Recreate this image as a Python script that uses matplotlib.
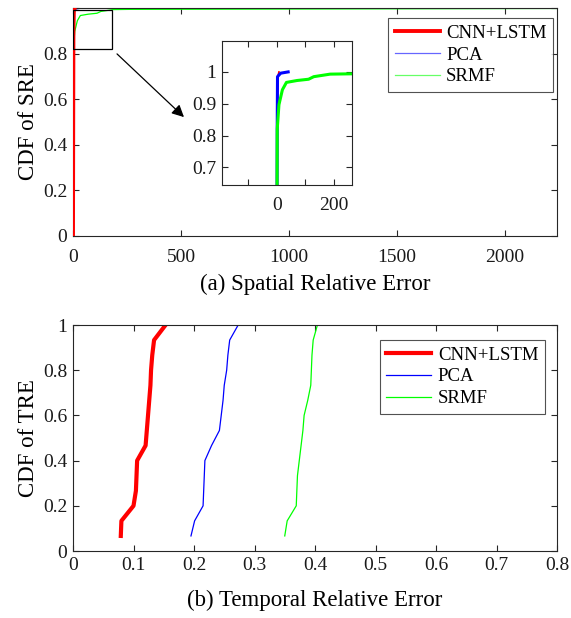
import matplotlib
matplotlib.use("Agg")
import matplotlib.pyplot as plt
import numpy as np
from matplotlib.patches import Rectangle, FancyArrowPatch

plt.rcParams['font.family'] = ['Liberation Serif', 'DejaVu Serif']
plt.rcParams['mathtext.fontset'] = 'stix'

methods = ['CNN+LSTM', 'PCA', 'SRMF']
colors = ['#ff0000', '#0000ff', '#00ff00']

# (a) Spatial relative error CDF
sre_cnn_x = [0, 1, 2, 4, 8]
sre_cnn_y = [0, 0.5, 0.9, 0.985, 1.0]
sre_pca_x = [0, 1, 2, 3, 14, 40]
sre_pca_y = [0, 0.5, 0.83, 0.985, 0.996, 1.0]
sre_srmf_x = [0, 1, 2, 8, 20, 34, 71, 111, 129, 186, 261, 2240]
sre_srmf_y = [0, 0.5, 0.82, 0.897, 0.944, 0.967, 0.973, 0.977, 0.985, 0.993, 0.994, 0.998]

# (b) Temporal relative error CDF (15 samples)
cdf_levels = [k / 15 for k in range(1, 16)]
tre_cnn = [0.079, 0.080, 0.100, 0.104, 0.105, 0.106, 0.120, 0.122, 0.124, 0.126,
           0.128, 0.129, 0.131, 0.134, 0.153]
tre_pca = [0.195, 0.201, 0.215, 0.216, 0.217, 0.218, 0.229, 0.242, 0.245, 0.248,
           0.250, 0.254, 0.256, 0.259, 0.273]
tre_srmf = [0.350, 0.354, 0.369, 0.370, 0.371, 0.374, 0.377, 0.380, 0.382, 0.388,
            0.393, 0.394, 0.395, 0.397, 0.404]

W, H = 571, 618
fig = plt.figure(figsize=(W / 100, H / 100), dpi=100)

def px_axes(l, t, r, b):
    return fig.add_axes([l / W, 1 - b / H, (r - l) / W, (b - t) / H])

axis_col = '#262626'
TICK_FS = 14
LABEL_FS = 16.5
LEG_FS = 13.5

def style(ax, xpad=4, ypad=4):
    for s in ax.spines.values():
        s.set_color(axis_col)
        s.set_linewidth(0.8)
    ax.tick_params(direction='in', top=True, right=True, colors=axis_col,
                   labelcolor='#1a1a1a', labelsize=TICK_FS, length=4, width=0.8)
    ax.tick_params(axis='x', pad=xpad)
    ax.tick_params(axis='y', pad=ypad)

# ---------- top ----------
ax1 = px_axes(73, 8, 557, 236)
lw_main = [2.8, 0.9, 0.9]
sre = [(sre_cnn_x, sre_cnn_y), (sre_pca_x, sre_pca_y), (sre_srmf_x, sre_srmf_y)]
for (x, y), c, lw, m in zip(sre, colors, lw_main, methods):
    ax1.plot(x, y, color=c, lw=lw, label=m, zorder=3 if m == 'CNN+LSTM' else 2)
ax1.set_xlim(0, 2240)
ax1.set_ylim(0, 1)
ax1.set_xticks([0, 500, 1000, 1500, 2000])
ax1.set_yticks([0, 0.2, 0.4, 0.6, 0.8, 1.0])
ax1.set_yticklabels(['0', '0.2', '0.4', '0.6', '0.8', ''])
style(ax1, xpad=9, ypad=4)
ax1.set_ylabel('CDF of SRE', fontsize=LABEL_FS, labelpad=3)
ax1.set_xlabel('(a) Spatial Relative Error', fontsize=LABEL_FS, labelpad=6)
leg1 = ax1.legend(loc='upper right', fontsize=LEG_FS, frameon=True, fancybox=False,
                  edgecolor=axis_col, handlelength=2.4, borderpad=0.35,
                  labelspacing=0.25, handletextpad=0.35, borderaxespad=0,
                  bbox_to_anchor=(0.992, 0.956))
leg1.get_frame().set_linewidth(0.8)
for h in leg1.get_lines()[1:]:
    h.set_alpha(0.6)
ax1.add_patch(Rectangle((0, 0.82), 180, 0.17, fill=False, ec='black', lw=0.9, zorder=4))

# inset
axi = px_axes(222, 41, 352, 185)
for (x, y), c in zip(sre, colors):
    axi.plot(x, y, color=c, lw=2.2 if c != '#ff0000' else 1.2)
axi.set_xlim(-190, 262)
axi.set_ylim(0.645, 1.097)
axi.set_xticks([-100, 0, 100, 200])
axi.set_xticklabels(['', '0', '', '200'])
axi.set_yticks([0.7, 0.8, 0.9, 1.0])
axi.set_yticklabels(['0.7', '0.8', '0.9', '1'])
style(axi, xpad=9, ypad=4)

fig.add_artist(FancyArrowPatch((115 / W, 1 - 52 / H), (186 / W, 1 - 119 / H),
                               transform=fig.transFigure, arrowstyle='-|>',
                               mutation_scale=18, color='black', lw=0.9))

# ---------- bottom ----------
ax2 = px_axes(73, 325, 557, 551)
tre = [tre_cnn, tre_pca, tre_srmf]
lw_b = [3.0, 0.9, 0.9]
for x, c, lw, m in zip(tre, colors, lw_b, methods):
    ax2.plot(x, cdf_levels, color=c, lw=lw, label=m)
ax2.set_xlim(0, 0.8)
ax2.set_ylim(0, 1)
ax2.set_xticks(np.round(np.arange(0, 0.81, 0.1), 1))
ax2.set_xticklabels(['0', '0.1', '0.2', '0.3', '0.4', '0.5', '0.6', '0.7', '0.8'])
ax2.set_yticks([0, 0.2, 0.4, 0.6, 0.8, 1.0])
ax2.set_yticklabels(['0', '0.2', '0.4', '0.6', '0.8', '1'])
style(ax2, xpad=4, ypad=4)
ax2.set_ylabel('CDF of TRE', fontsize=LABEL_FS, labelpad=3)
ax2.set_xlabel('(b) Temporal Relative Error', fontsize=LABEL_FS, labelpad=12)
leg2 = ax2.legend(loc='upper right', fontsize=LEG_FS, frameon=True, fancybox=False,
                  edgecolor=axis_col, handlelength=2.4, borderpad=0.35,
                  labelspacing=0.25, handletextpad=0.35, borderaxespad=0,
                  bbox_to_anchor=(0.975, 0.934))
leg2.get_frame().set_linewidth(0.8)

fig.savefig('out.png', dpi=100)
